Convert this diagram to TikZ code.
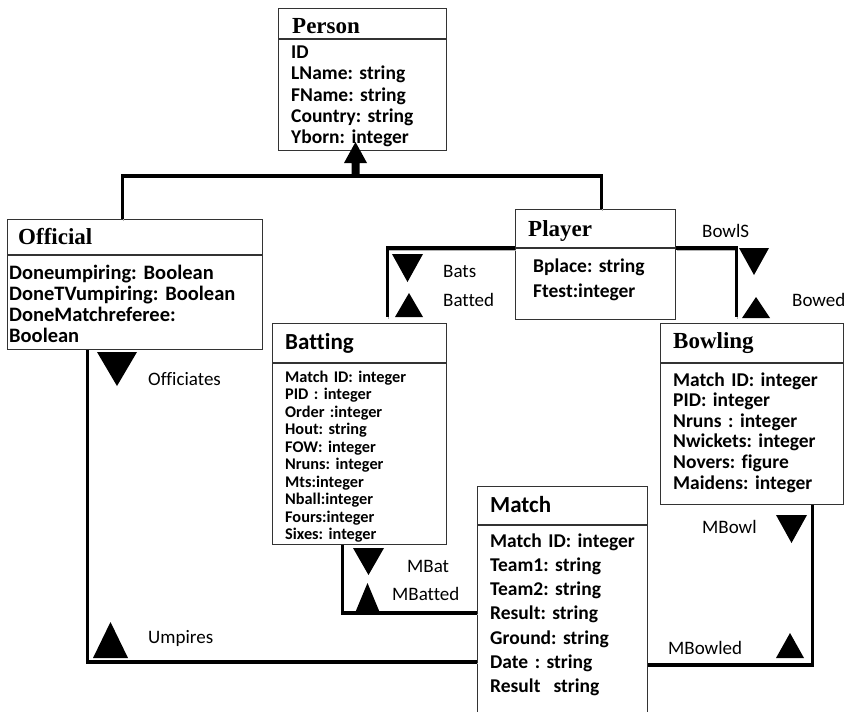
\documentclass[tikz,border=0pt]{standalone}
\usepackage{fontspec}
\setmainfont{Carlito}[Ligatures=CommonOff]
\newfontfamily\titlefont{Liberation Serif}
\usetikzlibrary{arrows.meta}
\frenchspacing

\tikzset{
  box/.style={draw=black!80, line width=1.2pt, fill=white, anchor=north west, inner sep=0pt},
  cname/.style={font=\titlefont\bfseries\fontsize{23}{23}\selectfont, anchor=base west, inner sep=0pt},
  sname/.style={font=\bfseries\fontsize{23}{23}\selectfont, anchor=base west, inner sep=0pt},
  attr/.style 2 args={font=\bfseries\fontsize{#1}{#2}\selectfont, anchor=base west, inner sep=0pt, text width=240pt, align=left},
  role/.style={font=\fontsize{19}{19}\selectfont, anchor=base west, inner sep=0pt},
  link/.style={line width=3.5pt, preaction={draw=black!30, transform canvas={shift={(1pt,-1.5pt)}}}}
}

\begin{document}
\begin{tikzpicture}[x=1pt,y=-1pt]
			\clip (0,0) rectangle (844,712);
			\fill[white] (0,0) rectangle (844,712);

			\node[box, minimum width=168, minimum height=30] (personhead) at (278,8) {};
			\node[box, minimum width=168, minimum height=111] (person) at (personhead.south west) {};
			\node[cname] (persontitle) at (292,33) {Person};
			\node[attr={19.5}{21.3}] (personattr) at (291,58.5) {ID\\LName: string\\FName: string\\Country: string\\Yborn: integer};

			\node[box, minimum width=255, minimum height=35] (officialhead) at (7,219) {};
			\node[box, minimum width=255, minimum height=94] (official) at (officialhead.south west) {};
			\node[cname] (officialtitle) at (18,244) {Official};
			\node[attr={20.5}{21.3}] (officialattr) at (9,279) {Doneumpiring: Boolean\\DoneTVumpiring: Boolean\\DoneMatchreferee:\\Boolean};

			\node[box, minimum width=160, minimum height=38] (playerhead) at (515,209) {};
			\node[box, minimum width=160, minimum height=71] (player) at (playerhead.south west) {};
			\node[cname] (playertitle) at (528,236) {Player};
			\node[attr={19.5}{25}] (playerattr) at (533,272) {Bplace: string\\Ftest:integer};

			\node[box, minimum width=183, minimum height=39] (bowlinghead) at (660,323) {};
			\node[box, minimum width=183, minimum height=141] (bowling) at (bowlinghead.south west) {};
			\node[cname] (bowlingtitle) at (673,348) {Bowling};
			\node[attr={19.5}{20.6}] (bowlingattr) at (673,386) {Match ID: integer\\PID: integer\\Nruns : integer\\Nwickets: integer\\Novers: figure\\Maidens: integer};

			\node[box, minimum width=174, minimum height=39] (battinghead) at (272,323) {};
			\node[box, minimum width=174, minimum height=181] (batting) at (battinghead.south west) {};
			\node[sname] (battingtitle) at (285,349) {Batting};
			\node[attr={16.3}{17.5}] (battingattr) at (285,382) {Match ID: integer\\PID : integer\\Order :integer\\Hout: string\\FOW: integer\\Nruns: integer\\Mts:integer\\Nball:integer\\Fours:integer\\Sixes: integer};

			\node[box, minimum width=170, minimum height=38] (matchhead) at (477,486) {};
			\node[box, minimum width=170, minimum height=200] (match) at (matchhead.south west) {};
			\node[sname] (matchtitle) at (490,512) {Match};
			\node[attr={19.5}{24.3}] (matchattr) at (490,547) {Match ID: integer\\Team1: string\\Team2: string\\Result: string\\Ground: string\\Date : string\\Result~~string};

			\coordinate (isa) at (355.5,176);
			\draw[link] ([xshift=-12.5]officialhead.north) |- (isa) -| ([xshift=6]playerhead.north);
			\fill (isa) ++(-4,0) -- ++(0,-13) -- ++(-7.5,0) -- ++(11.5,-21) -- ++(11.5,21) -- ++(-7.5,0) -- ++(0,13) -- cycle;

			\draw[link] (playerhead.south west) -| ([xshift=28,yshift=6]battinghead.north);
			\draw[link] (playerhead.south east) -| ([xshift=-15.5,yshift=6]bowlinghead.north);
			\draw[link] ([xshift=-47.5]official.south) |- (match.west |- 0,662);
			\draw[link] ([xshift=-17]batting.south) |- (match.west |- 0,613);
			\draw[link] ([xshift=60.5]bowling.south) |- (match.east |- 0,665);

			\fill (97,352) -- (137,352) -- (117,386) -- cycle;
			\fill (93,658) -- (128,658) -- (110.5,622) -- cycle;
			\fill (392,254) -- (423,254) -- (407.5,282) -- cycle;
			\fill (395,317) -- (423,317) -- (409,293) -- cycle;
			\fill (739,248) -- (769,248) -- (754,275) -- cycle;
			\fill (742,318) -- (770,318) -- (756,297) -- cycle;
			\fill (353,548) -- (384,548) -- (368.5,575) -- cycle;
			\fill (355,613) -- (380,613) -- (367.5,583) -- cycle;
			\fill (776,515) -- (807,515) -- (791.5,543) -- cycle;
			\fill (776,658) -- (804,658) -- (790,633) -- cycle;

			\node[role] (officiates) at (148,385) {Officiates};
			\node[role] (umpires) at (148,643) {Umpires};
			\node[role] (bats) at (443,277) {Bats};
			\node[role] (batted) at (443,306) {Batted};
			\node[role] (bowls) at (702,237) {BowlS};
			\node[role] (bowed) at (792,306) {Bowed};
			\node[role] (mbat) at (407,572) {MBat};
			\node[role] (mbatted) at (392,600) {MBatted};
			\node[role] (mbowl) at (702,533) {MBowl};
			\node[role] (mbowled) at (668,654) {MBowled};
\end{tikzpicture}
\end{document}
